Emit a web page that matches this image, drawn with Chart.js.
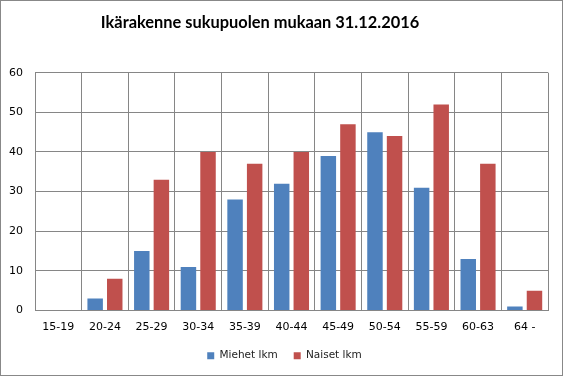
<!DOCTYPE html>
<html>
<head>
<meta charset="utf-8">
<script src="https://cdn.jsdelivr.net/npm/chart.js@4"></script>
<style>
  body { margin: 0; background: #fff; }
  #wrap { width: 563px; height: 376px; box-sizing: border-box; border: 1px solid #888; position: relative; }
  canvas { display: block; }
</style>
</head>
<body>
<div id="wrap"><canvas id="chart" width="561" height="374"></canvas></div>
<script>
const ageGroups = ['15-19', '20-24', '25-29', '30-34', '35-39', '40-44', '45-49', '50-54', '55-59', '60-63', '64 -'];
const men = [0, 3, 15, 11, 28, 32, 39, 45, 31, 13, 1];
const women = [0, 8, 33, 40, 37, 40, 47, 44, 52, 37, 5];
const yTicks = [0, 10, 20, 30, 40, 50, 60];

const gridColor = '#868686';
const tickFont = { family: "'DejaVu Sans', Verdana, sans-serif", size: 11 };

// Excel centres the title and legend a little differently from Chart.js
const nudgeBlocks = {
  id: 'nudgeBlocks',
  afterLayout(chart) {
    const t = chart.titleBlock;
    t.left = 0; t.right = 518; t.width = 518;
    const l = chart.legend;
    l.left = 20; l.width = l.right - 20;
  }
};

new Chart(document.getElementById('chart'), {
  type: 'bar',
  data: {
    labels: ageGroups,
    datasets: [
      { label: 'Miehet lkm', data: men, backgroundColor: '#4F81BD', categoryPercentage: 0.84, barPercentage: 0.79 },
      { label: 'Naiset lkm', data: women, backgroundColor: '#C0504D', categoryPercentage: 0.84, barPercentage: 0.79 }
    ]
  },
  options: {
    responsive: false,
    animation: false,
    layout: { padding: { left: 0, right: 14, top: 0, bottom: 4 } },
    plugins: {
      title: {
        display: true,
        text: 'Ikärakenne sukupuolen mukaan 31.12.2016',
        color: '#000',
        font: { family: 'Lato', size: 16.4, weight: 'bold' },
        padding: { top: 12, bottom: 40 }
      },
      legend: {
        position: 'bottom',
        labels: {
          color: '#222',
          font: { family: "'DejaVu Sans', Verdana, sans-serif", size: 10.5 },
          boxWidth: 7,
          boxHeight: 7,
          padding: 16
        }
      },
      tooltip: { enabled: false }
    },
    scales: {
      x: {
        grid: { color: gridColor, drawTicks: false },
        border: { color: gridColor },
        ticks: { color: '#000', font: tickFont, padding: 10, maxRotation: 0 },
        afterFit: (s) => { s.height = 24; }
      },
      y: {
        min: 0,
        max: 60,
        afterBuildTicks: (s) => { s.ticks = yTicks.map(v => ({ value: v })); },
        grid: { color: gridColor, drawTicks: false },
        border: { color: gridColor },
        ticks: { color: '#000', font: tickFont, padding: 12 },
        afterFit: (s) => { s.width = 34; }
      }
    }
  },
  plugins: [nudgeBlocks]
});
</script>
</body>
</html>
